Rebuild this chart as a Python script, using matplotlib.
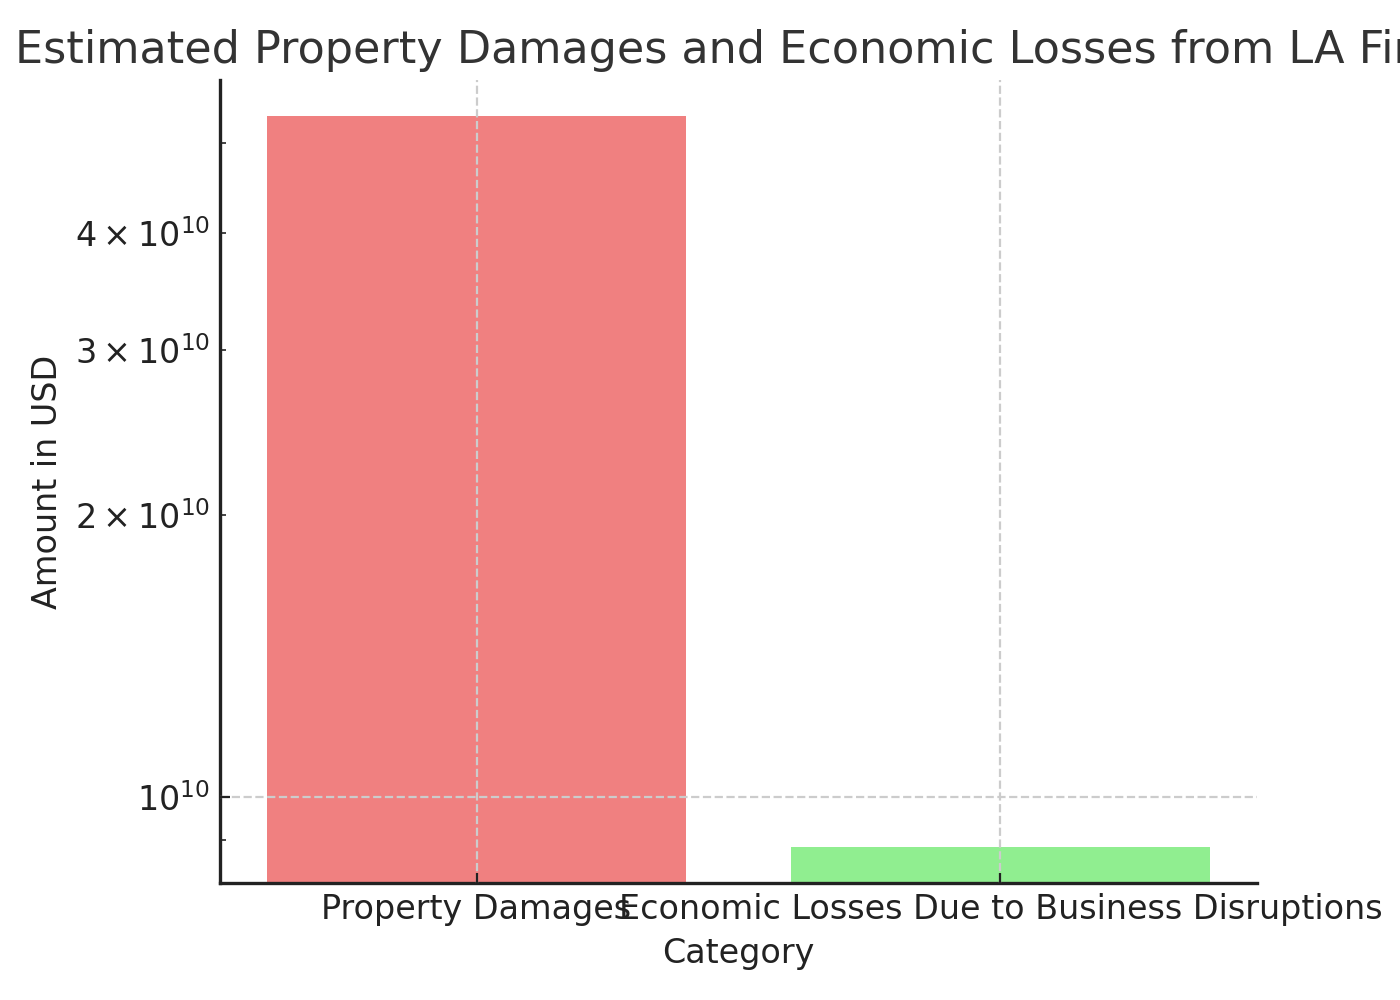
import matplotlib
matplotlib.use("Agg")
from matplotlib import pyplot as plt

categories = ['Property Damages', 'Economic Losses Due to Business Disruptions']
amounts = [5.33e10, 8.86e9]
colors = ['lightcoral', 'lightgreen']

fig, ax = plt.subplots(figsize=(7, 5), dpi=200)
fig.subplots_adjust(left=0.157, right=0.898, bottom=0.117, top=0.92)

ax.bar(categories, amounts, color=colors)
ax.set_yscale('log')

ax.set_title('Estimated Property Damages and Economic Losses from LA Fires',
             fontsize=16, color='#333333')
ax.set_xlabel('Category', fontsize=12, color='#222222')
ax.set_ylabel('Amount in USD', fontsize=12, color='#222222')

ax.tick_params(axis='both', which='both', direction='in', labelsize=12,
               colors='#222222')
ax.grid(True, linestyle='--', color='#cccccc', linewidth=0.8)
ax.set_axisbelow(False)

for side in ['top', 'right']:
    ax.spines[side].set_visible(False)
for side in ['left', 'bottom']:
    ax.spines[side].set_color('#222222')
    ax.spines[side].set_linewidth(1.2)

fig.savefig('out.png')
